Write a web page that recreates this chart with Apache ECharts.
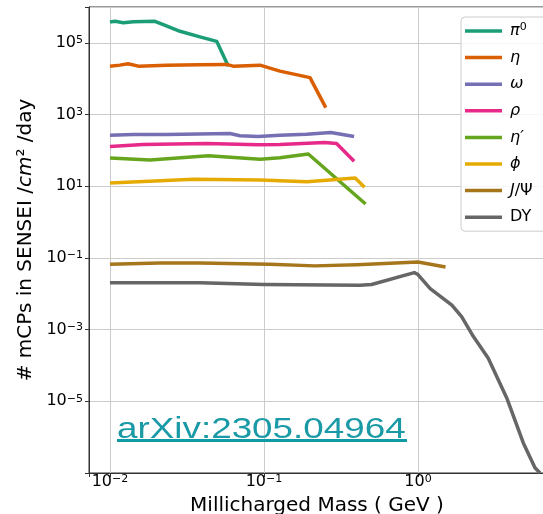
<!DOCTYPE html>
<html><head><meta charset="utf-8">
<script src="https://cdn.jsdelivr.net/npm/echarts@6/dist/echarts.min.js"></script>
<style>html,body{margin:0;padding:0;background:#fff}#c{width:543px;height:514px}</style>
</head><body><div id="c"></div>
<script>
// ---- data ----
const seriesNames = ['π⁰', 'η', 'ω', 'ρ', 'η′', 'ϕ', 'J/Ψ', 'DY'];
const seriesColors = ['#1b9e77', '#d95f02', '#7570b3', '#e7298a', '#66a61e', '#e6ab02', '#a6761d', '#666666'];

const xPi0 = [0.0100, 0.0108, 0.0122, 0.0142, 0.0196, 0.0222, 0.0285, 0.0384, 0.0493, 0.0587];
const yPi0 = [3.83e5, 3.98e5, 3.66e5, 3.9e5, 4.0e5, 3.2e5, 2.1e5, 1.47e5, 1.1e5, 2.24e4];

const xEta = [0.0100, 0.0116, 0.0131, 0.0153, 0.0233, 0.0384, 0.0572, 0.0631, 0.0942, 0.127, 0.199, 0.252];
const yEta = [2.24e4, 2.39e4, 2.61e4, 2.24e4, 2.39e4, 2.45e4, 2.5e4, 2.24e4, 2.39e4, 1.63e4, 1.07e4, 1.56e3];

const xOmega = [0.0100, 0.0142, 0.0233, 0.0601, 0.0698, 0.0916, 0.127, 0.189, 0.272, 0.385];
const yOmega = [266, 278, 278, 296, 255, 245, 266, 284, 316, 245];

const xRho = [0.0100, 0.0164, 0.0424, 0.0916, 0.127, 0.248, 0.296, 0.385];
const yRho = [129, 147, 156, 143, 147, 167, 156, 49.5];

const xEtaP = [0.0100, 0.0182, 0.0435, 0.0942, 0.127, 0.194, 0.457];
const yEtaP = [61, 54, 71, 57, 62, 79, 3.2];

const xPhi = [0.0100, 0.0349, 0.0942, 0.190, 0.391, 0.450];
const yPhi = [12.3, 15.6, 15.0, 13.4, 17.0, 9.4];

const xJpsi = [0.0100, 0.0211, 0.0384, 0.109, 0.214, 0.400, 1.00, 1.51];
const yJpsi = [0.0664, 0.0726, 0.0726, 0.0664, 0.060, 0.065, 0.0774, 0.056];

const xDY = [0.0100, 0.0384, 0.100, 0.420, 0.500, 0.946, 1.00, 1.20, 1.66, 1.92, 2.29, 2.86, 3.77, 4.83, 5.75, 6.20];
const yDY = [0.0202, 0.0202, 0.0181, 0.0173, 0.0181, 0.039, 0.0344, 0.014, 0.0048, 0.0023, 6.4e-4, 1.6e-4, 1.24e-5, 6.9e-7, 1.4e-7, 1.0e-7];

const seriesX = [xPi0, xEta, xOmega, xRho, xEtaP, xPhi, xJpsi, xDY];
const seriesY = [yPi0, yEta, yOmega, yRho, yEtaP, yPhi, yJpsi, yDY];

const xTickValues = [0.01, 0.1, 1];
const xTickLabels = ['{b|10}{s|−2}', '{b|10}{s|−1}', '{b|10}{s|0}'];
const yTickValues = [1e-5, 1e-3, 1e-1, 1e1, 1e3, 1e5];
const yTickLabels = ['{b|10}{s|−5}', '{b|10}{s|−3}', '{b|10}{s|−1}', '{b|10}{s|1}', '{b|10}{s|3}', '{b|10}{s|5}'];

const legendLabels = ['{i|π}{s|0}', '{i|η}', '{i|ω}', '{i|ρ}', '{i|η′}', '{i|ϕ}', '{i|J}/Ψ', 'DY'];

// ---- chart ----
const FONT = 'DejaVu Sans';
function tickFmt(values, labels) {
  return function (v) {
    for (let i = 0; i < values.length; i++) {
      if (Math.abs(Math.log10(v) - Math.log10(values[i])) < 1e-6) return labels[i];
    }
    return '';
  };
}
const tickRich = {
  b: { fontFamily: FONT, fontSize: 16, lineHeight: 16, color: '#000', verticalAlign: 'bottom' },
  s: { fontFamily: FONT, fontSize: 11, lineHeight: 11, color: '#000', verticalAlign: 'top', padding: [0, 0, 6, 0] }
};

const series = seriesNames.map((name, k) => ({
  name: name,
  type: 'line',
  symbol: 'none',
  data: seriesX[k].map((x, i) => [x, seriesY[k][i]]),
  lineStyle: { width: 3.5, color: seriesColors[k], join: 'round' },
  itemStyle: { color: seriesColors[k] },
  clip: true,
  z: 3 + k
}));

const chart = echarts.init(document.getElementById('c'), null, { renderer: 'canvas' });
chart.setOption({
  animation: false,
  backgroundColor: '#ffffff',
  textStyle: { fontFamily: FONT },
  grid: {
    left: 89, top: 7, right: -2, bottom: 41, outerBoundsMode: 'none', containLabel: false,
    show: true, borderColor: '#333333', borderWidth: 1, backgroundColor: 'transparent'
  },
  xAxis: {
    type: 'log', logBase: 10, min: 0.00731, max: 6.68,
    name: 'Millicharged Mass ( GeV )', nameLocation: 'middle', nameGap: 23,
    nameTextStyle: { fontFamily: FONT, fontSize: 20, color: '#000' },
    axisLine: { show: true, lineStyle: { color: '#333333', width: 1 } },
    axisTick: { show: true, length: 4, lineStyle: { color: '#333333' } },
    axisLabel: { margin: 1, fontFamily: FONT, fontSize: 16, color: '#000',
      formatter: tickFmt(xTickValues, xTickLabels), rich: tickRich },
    splitLine: { show: true, lineStyle: { color: '#cccccc', width: 1 } }
  },
  yAxis: {
    type: 'log', logBase: 10, min: 1e-7, max: 1e6, interval: 2,
    name: '# mCPs in SENSEI /{i|cm}² /day', nameLocation: 'middle', nameGap: 46,
    nameTextStyle: { fontFamily: FONT, fontSize: 20, color: '#000',
      rich: { i: { fontFamily: FONT, fontSize: 20, fontStyle: 'italic', color: '#000' } } },
    axisLine: { show: true, lineStyle: { color: '#333333', width: 1 } },
    axisTick: { show: true, length: 4, lineStyle: { color: '#333333' } },
    axisLabel: { margin: 6, fontFamily: FONT, fontSize: 16, color: '#000',
      formatter: tickFmt(yTickValues, yTickLabels), rich: tickRich },
    splitLine: { show: true, lineStyle: { color: '#cccccc', width: 1 } }
  },
  legend: {
    orient: 'vertical', left: 461, top: 17, padding: [5, 24, 5, 4],
    icon: 'rect', itemWidth: 37, itemHeight: 3.5, itemGap: 8.6,
    backgroundColor: 'rgba(255,255,255,0.8)', borderColor: '#cccccc', borderWidth: 1, borderRadius: 4,
    data: seriesNames,
    formatter: function (n) { return legendLabels[seriesNames.indexOf(n)]; },
    textStyle: { fontFamily: FONT, fontSize: 16, color: '#000', lineHeight: 18, padding: [0, 0, 0, 3],
      rich: {
        i: { fontFamily: FONT, fontSize: 16, fontStyle: 'italic', color: '#000', lineHeight: 18 },
        s: { fontFamily: FONT, fontSize: 11, color: '#000', lineHeight: 11, verticalAlign: 'top' }
      } }
  },
  graphic: [
    { type: 'text', x: 117, y: 430, scaleX: 1.27, z: 100,
      style: { text: 'arXiv:2305.04964', font: '29px "Liberation Sans"', fill: '#1a9aa6', verticalAlign: 'middle' } },
    { type: 'rect', z: 100, shape: { x: 117, y: 439, width: 290, height: 3 }, style: { fill: '#0f9aa5' } }
  ],
  series: series
});
</script></body></html>
